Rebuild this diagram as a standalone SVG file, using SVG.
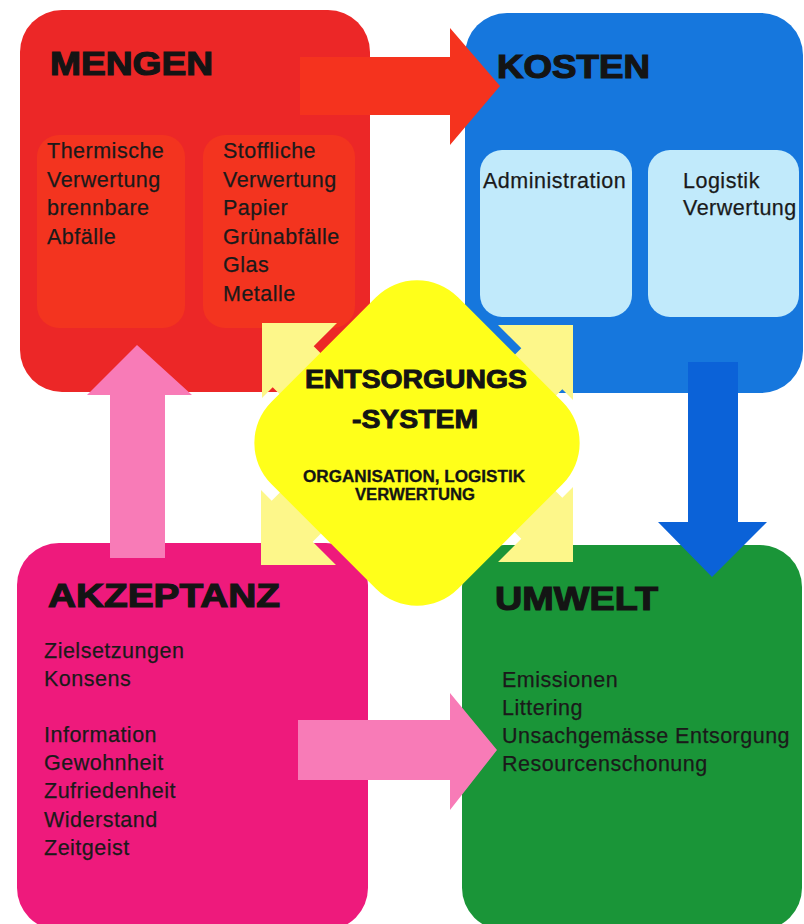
<svg xmlns="http://www.w3.org/2000/svg" xmlns:xlink="http://www.w3.org/1999/xlink" width="804" height="924" viewBox="0 0 804 924">
<style>
.t{font-family:"Liberation Sans",Arial,sans-serif;font-size:21.5px;letter-spacing:0.5px;fill:#1a1a1a;stroke:#1a1a1a;stroke-width:0.25}
.h{font-family:"Liberation Sans",Arial,sans-serif;font-weight:bold;font-size:33px;fill:#141414;stroke:#141414;stroke-width:1.2}
.d{font-family:"Liberation Sans",Arial,sans-serif;font-weight:bold;fill:#141414;stroke:#141414}
.pale{fill:#fdf78a}
.pink{fill:#f87bb7}
</style>
<defs>
<polygon id="palearrow" points="0,0 75,0 51.7,23.3 171.7,143.3 130.7,184.3 10.7,64.3 0,75"/>
</defs>
<rect width="804" height="924" fill="#ffffff"/>

<g id="mengen">
<rect x="20" y="10" width="350" height="382" rx="42" fill="#ec2727"/>
<rect x="37" y="135" width="148" height="193" rx="22" fill="#f3341f"/>
<rect x="203" y="135" width="152" height="193" rx="22" fill="#f3341f"/>
</g>
<g id="kosten">
<rect x="465" y="13" width="338" height="380" rx="42" fill="#1677dd"/>
<rect x="480" y="150" width="152" height="167" rx="22" fill="#c1eafb"/>
<rect x="648" y="150" width="151" height="167" rx="22" fill="#c1eafb"/>
</g>
<g id="akzeptanz">
<rect x="17" y="543" width="351" height="387" rx="42" fill="#ee1a7c"/>
</g>
<g id="umwelt">
<rect x="462" y="545" width="340" height="385" rx="42" fill="#1a9538"/>
</g>

<g id="entsorgungssystem">
<g class="pale">
<use xlink:href="#palearrow" transform="translate(262,323)"/>
<use xlink:href="#palearrow" transform="translate(573,325) scale(-1,1)"/>
<use xlink:href="#palearrow" transform="translate(261,565) scale(1,-1)"/>
<use xlink:href="#palearrow" transform="translate(573,562) scale(-1,-1)"/>
</g>
<rect x="-132" y="-132" width="264" height="264" rx="58" fill="#ffff1a" transform="translate(417,443) rotate(45)"/>
<text class="d" x="305" y="388" font-size="25" stroke-width="0.9" textLength="222" lengthAdjust="spacingAndGlyphs">ENTSORGUNGS</text>
<text class="d" x="352" y="428" font-size="25" stroke-width="0.9" textLength="126" lengthAdjust="spacingAndGlyphs">-SYSTEM</text>
<text class="d" x="303" y="482" font-size="16" stroke-width="0.3" textLength="222" lengthAdjust="spacingAndGlyphs">ORGANISATION, LOGISTIK</text>
<text class="d" x="355" y="500" font-size="16" stroke-width="0.3" textLength="120" lengthAdjust="spacingAndGlyphs">VERWERTUNG</text>
</g>

<g id="connectors">
<polygon fill="#f5331e" points="300,57 450,57 450,28 500,86 450,145 450,115 300,115"/>
<polygon fill="#0b62d8" points="688,362 738,362 738,522 767,522 712,577 658,522 688,522"/>
<polygon class="pink" points="110,558 110,395 87,395 137,345 192,395 165,395 165,558"/>
<polygon class="pink" points="298,720 450,720 450,693 497,750 450,810 450,780 298,780"/>
</g>

<g id="mengen-text">
<text class="h" x="50" y="75" textLength="163" lengthAdjust="spacingAndGlyphs">MENGEN</text>
<text class="t" x="47" y="158">Thermische</text>
<text class="t" x="47" y="186.5">Verwertung</text>
<text class="t" x="47" y="215">brennbare</text>
<text class="t" x="47" y="243.5">Abfälle</text>
<text class="t" x="223" y="158">Stoffliche</text>
<text class="t" x="223" y="186.5">Verwertung</text>
<text class="t" x="223" y="215">Papier</text>
<text class="t" x="223" y="243.5">Grünabfälle</text>
<text class="t" x="223" y="272">Glas</text>
<text class="t" x="223" y="300.5">Metalle</text>
</g>
<g id="kosten-text">
<text class="h" x="497" y="78" textLength="153" lengthAdjust="spacingAndGlyphs">KOSTEN</text>
<text class="t" x="483" y="188">Administration</text>
<text class="t" x="683" y="188">Logistik</text>
<text class="t" x="683" y="215">Verwertung</text>
</g>
<g id="akzeptanz-text">
<text class="h" x="48" y="607" textLength="232" lengthAdjust="spacingAndGlyphs">AKZEPTANZ</text>
<text class="t" x="44" y="658">Zielsetzungen</text>
<text class="t" x="44" y="686">Konsens</text>
<text class="t" x="44" y="742">Information</text>
<text class="t" x="44" y="770">Gewohnheit</text>
<text class="t" x="44" y="798">Zufriedenheit</text>
<text class="t" x="44" y="827">Widerstand</text>
<text class="t" x="44" y="855">Zeitgeist</text>
</g>
<g id="umwelt-text">
<text class="h" x="495" y="610" textLength="163" lengthAdjust="spacingAndGlyphs">UMWELT</text>
<text class="t" x="502" y="687">Emissionen</text>
<text class="t" x="502" y="715">Littering</text>
<text class="t" x="502" y="743">Unsachgemässe Entsorgung</text>
<text class="t" x="502" y="771">Resourcenschonung</text>
</g>
</svg>
